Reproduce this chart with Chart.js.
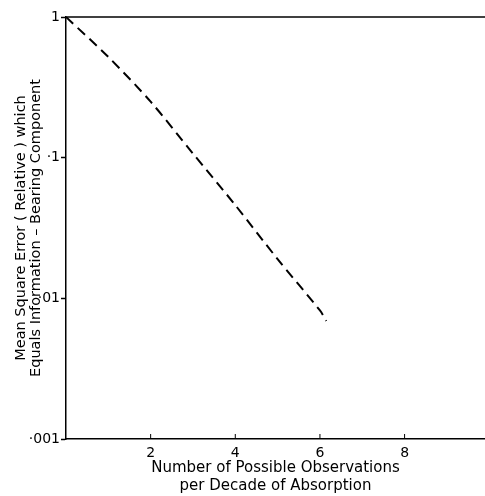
<!DOCTYPE html>
<html>
<head>
<meta charset="utf-8">
<script src="https://cdn.jsdelivr.net/npm/chart.js@4/dist/chart.umd.min.js"></script>
<style>
  html, body { margin: 0; padding: 0; background: #fff; overflow: hidden; }
  canvas { display: block; }
</style>
</head>
<body>
<canvas id="errorChart" width="485" height="496"></canvas>
<script>
// values
var observations = [0, 1, 2, 3, 4, 5, 6, 6.15];
var relativeError = [1, 0.52, 0.25, 0.107, 0.046, 0.019, 0.0082, 0.0069];

var xTicks = [2, 4, 6, 8];
var yTicks = [1, 0.1, 0.01, 0.001];
var yTickLabels = ['1', '·1', '·01', '·001'];

var inkFont = 'DejaVu Sans';

// plot frame: top rule plus short inward ticks on the x axis
var framePlugin = {
    id: 'frame',
    afterDatasetsDraw: function (chart) {
        var ctx = chart.ctx;
        var area = chart.chartArea;
        var xScale = chart.scales.x;
        ctx.save();
        ctx.strokeStyle = '#000';
        ctx.lineWidth = 1.5;
        ctx.beginPath();
        ctx.moveTo(area.left, area.top);
        ctx.lineTo(area.right, area.top);
        ctx.stroke();
        ctx.lineWidth = 1;
        xTicks.forEach(function (v) {
            var px = xScale.getPixelForValue(v);
            ctx.beginPath();
            ctx.moveTo(px, area.bottom);
            ctx.lineTo(px, area.bottom - 5);
            ctx.stroke();
        });
        ctx.restore();
    }
};

new Chart(document.getElementById('errorChart'), {
    type: 'line',
    data: {
        datasets: [{
            data: observations.map(function (x, i) { return { x: x, y: relativeError[i] }; }),
            borderColor: '#000',
            borderWidth: 2,
            borderDash: [10, 6],
            pointRadius: 0,
            tension: 0.3,
            fill: false,
        }],
    },
    options: {
        responsive: false,
        animation: false,
        layout: { padding: { top: 17, right: 0, left: 0, bottom: 0 } },
        plugins: { legend: { display: false }, tooltip: { enabled: false } },
        scales: {
            x: {
                type: 'linear',
                min: 0,
                max: 9.9,
                afterBuildTicks: function (scale) {
                    scale.ticks = xTicks.map(function (v) { return { value: v }; });
                },
                afterFit: function (scale) { scale.height = 57; },
                grid: { display: false, drawTicks: false },
                border: { display: true, color: '#000', width: 1.5 },
                ticks: {
                    color: '#000',
                    padding: 6,
                    maxRotation: 0,
                    font: { family: inkFont, size: 14 },
                },
                title: {
                    display: true,
                    text: ['Number of Possible Observations', 'per Decade of Absorption'],
                    color: '#000',
                    font: { family: inkFont, size: 15, lineHeight: 1.2 },
                    padding: { top: 0, bottom: 1 },
                },
            },
            y: {
                type: 'logarithmic',
                min: 0.001,
                max: 1,
                afterBuildTicks: function (scale) {
                    scale.ticks = yTicks.map(function (v) { return { value: v }; });
                },
                afterFit: function (scale) { scale.width = 66; },
                grid: {
                    drawOnChartArea: false,
                    drawTicks: true,
                    tickLength: 5,
                    tickWidth: 1.5,
                    tickColor: '#000',
                },
                border: { display: true, color: '#000', width: 1.5 },
                ticks: {
                    color: '#000',
                    padding: 1,
                    font: { family: inkFont, size: 14 },
                    callback: function (value) {
                        var i = yTicks.indexOf(value);
                        return i >= 0 ? yTickLabels[i] : '';
                    },
                },
                title: {
                    display: true,
                    text: ['Mean Square Error ( Relative ) which', 'Equals Information – Bearing Component'],
                    color: '#000',
                    font: { family: inkFont, size: 14.5, lineHeight: 1.0 },
                    padding: { top: 14, bottom: 0 },
                },
            },
        },
    },
    plugins: [framePlugin],
});
</script>
</body>
</html>
